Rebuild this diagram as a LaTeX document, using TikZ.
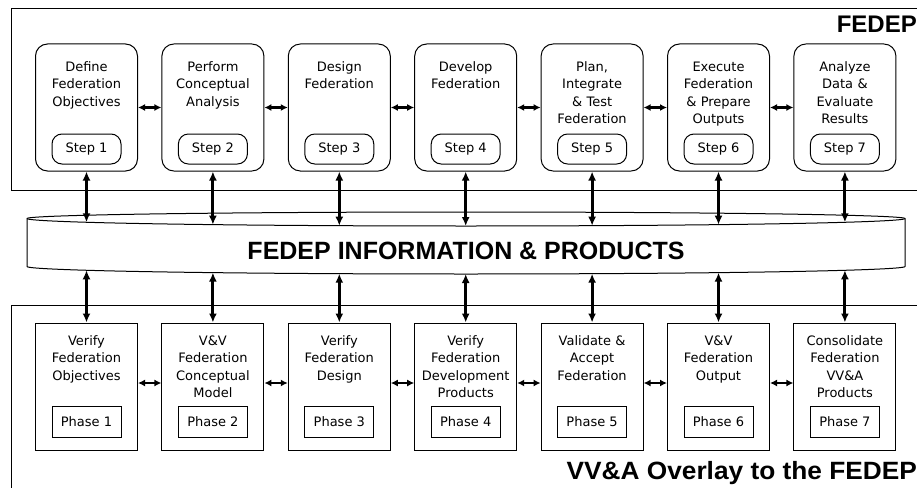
\documentclass[tikz,border=0pt]{standalone}
\usepackage{fontspec}
\setmainfont{DejaVu Sans}
\newfontfamily\titlefont{Liberation Sans}
\usetikzlibrary{arrows.meta}
\begin{document}
\begin{tikzpicture}[x=1pt,y=-1pt,
  frame/.style={line width=1pt},
  stepbox/.style={draw, rounded corners=12pt, minimum width=102pt, minimum height=127pt, inner sep=0pt, line width=1pt},
  steplabel/.style={draw, rounded corners=10pt, minimum width=69pt, minimum height=30pt, inner sep=0pt, line width=1pt, font=\fontsize{13}{15}\selectfont},
  phasebox/.style={draw, minimum width=102pt, minimum height=127pt, inner sep=0pt, line width=1pt},
  phaselabel/.style={draw, minimum width=69pt, minimum height=31pt, inner sep=0pt, line width=1pt, font=\fontsize{13}{15}\selectfont},
  boxtext/.style={anchor=base, inner sep=0pt, text width=100pt, align=center, font=\fontsize{13}{17.5}\selectfont},
  hlink/.style={{Latex[length=7pt,width=7pt]}-{Latex[length=7pt,width=7pt]}, line width=2.5pt},
  vlink/.style={{Latex[length=9pt,width=8pt]}-{Latex[length=9pt,width=8pt]}, line width=3pt},
  bigtitle/.style={inner sep=0pt, font=\titlefont\bfseries\fontsize{25}{28}\selectfont}
]
\useasboundingbox (0,0) rectangle (917,487);
\clip (0,0) rectangle (917,487);
\fill[white] (0,0) rectangle (917,487);

% frames
\draw[frame] (11,9) rectangle (930,190);
\draw[frame] (11,305) rectangle (930,500);
\node[bigtitle, anchor=base east, font=\titlefont\bfseries\fontsize{24}{28}\selectfont] (fedep) at (917,33) {FEDEP};
\node[bigtitle, anchor=base east] (overlay) at (917,479) {\scalebox{1.05}[1]{VV\&A Overlay to the FEDEP}};

% information cylinder
\draw[line width=1pt, fill=white]
  plot[domain=180:360, samples=90] ({466+439*cos(\x)}, {218.5+6.5*sin(\x)})
  -- plot[domain=0:180, samples=90] ({466+439*cos(\x)}, {266.5+7.5*sin(\x)})
  -- cycle;
\draw[line width=1pt] plot[domain=180:0, samples=90] ({466+439*cos(\x)}, {218.5+7.5*sin(\x)});
\node[bigtitle, anchor=base] (info) at (466,259) {FEDEP INFORMATION \& PRODUCTS};

% top process steps
\foreach \i/\t in {1/{Define\\Federation\\Objectives},
                   2/{Perform\\Conceptual\\Analysis},
                   3/{Design\\Federation},
                   4/{Develop\\Federation},
                   5/{Plan,\\Integrate\\\& Test\\Federation},
                   6/{Execute\\Federation\\\& Prepare\\Outputs},
                   7/{Analyze\\Data \&\\Evaluate\\Results}}{
  \pgfmathsetmacro\cx{86.5+126.4*(\i-1)}
  \node[stepbox] (s\i) at (\cx,107.5) {};
  \node[boxtext] (st\i) at (\cx,71) {\t};
  \node[steplabel] (sl\i) at (\cx,149) {Step \i};
}

% bottom VV&A phases
\foreach \i/\t in {1/{Verify\\Federation\\Objectives},
                   2/{V\&V\\Federation\\Conceptual\\Model},
                   3/{Verify\\Federation\\Design},
                   4/{Verify\\Federation\\Development\\Products},
                   5/{Validate \&\\Accept\\Federation},
                   6/{V\&V\\Federation\\Output},
                   7/{Consolidate\\Federation\\VV\&A\\Products}}{
  \pgfmathsetmacro\cx{86.5+126.4*(\i-1)}
  \node[phasebox] (v\i) at (\cx,386.5) {};
  \node[boxtext] (vt\i) at (\cx,345) {\t};
  \node[phaselabel] (pl\i) at (\cx,421.5) {Phase \i};
}

% connectors
\foreach \i in {1,...,7}{
  \pgfmathsetmacro\cx{86.5+126.4*(\i-1)}
  \pgfmathsetmacro\dy{7.5*sqrt(1-((\cx-466)/439)^2)}
  \coordinate (ci\i) at (\cx,{218.5+\dy});
  \coordinate (cb\i) at (\cx,{266.5+\dy});
  \draw[vlink] (s\i.south) -- (ci\i);
  \draw[vlink] (cb\i) -- (v\i.north);
}
\foreach \i [evaluate=\i as \j using int(\i+1)] in {1,...,6}{
  \draw[hlink] (s\i.east) -- (s\j.west);
  \draw[hlink] ([yshift=3.5pt]v\i.east) -- ([yshift=3.5pt]v\j.west);
}
\end{tikzpicture}
\end{document}
